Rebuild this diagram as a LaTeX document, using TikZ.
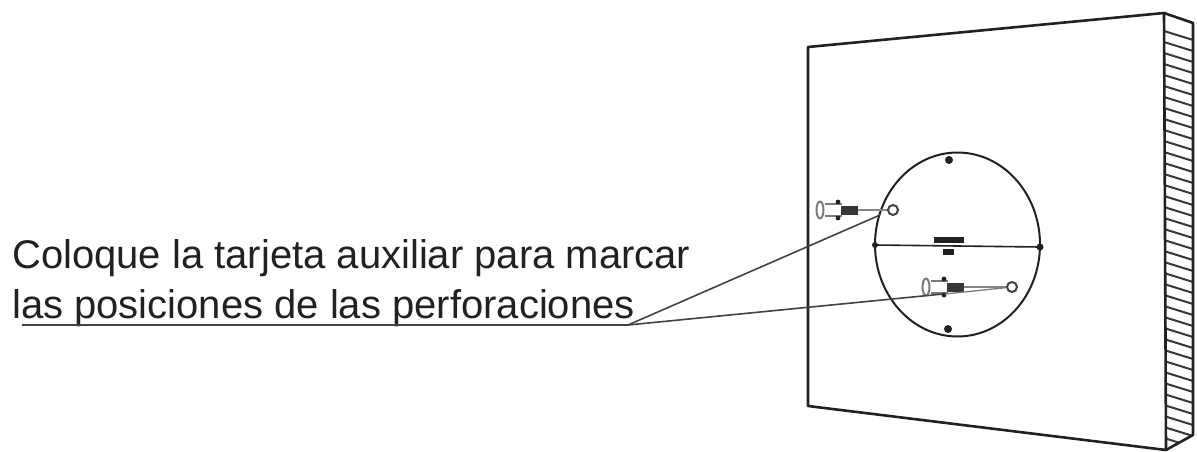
\documentclass[tikz,border=0pt]{standalone}
\usepackage{fontspec}
\setmainfont{Liberation Sans}
\definecolor{ink}{gray}{0.13}
\tikzset{
  wall/.style={draw=ink,line width=2.6pt,line join=round},
  hatchline/.style={draw=ink!90,line width=2pt},
  thinline/.style={draw=ink,line width=1.6pt},
  leader/.style={draw=ink!85,line width=1.6pt},
  textlabel/.style={anchor=base west,inner sep=0pt,text=ink,font=\fontsize{40}{44}\selectfont},
  blob/.style={fill=ink,draw=none},
  plughead/.style={draw=ink!60,line width=2pt,fill=white},
  ring/.style={draw=ink!85,line width=2pt,fill=white,circle,inner sep=0pt,minimum size=10pt}
}
\newcommand{\plug}[3]{% head x, y, ring x
  \draw[draw=ink!60,line width=1.5pt] (#1+5,#2-6) -- (#1+22,#2-6) (#1+5,#2+6) -- (#1+22,#2+6);
  \draw[plughead] (#1,#2) ellipse [x radius=3.5,y radius=8.5];
  \fill[ink] (#1+18,#2-8) circle (2.4);
  \fill[ink] (#1+18,#2+8) circle (2.4);
  \fill[ink!90] (#1+21,#2-4.5) rectangle (#1+38,#2+4.5);
  \draw[draw=ink!55,line width=1.6pt] (#1+38,#2) -- (#3,#2);
}
\begin{document}
\begin{tikzpicture}[x=1pt,y=-1pt]
\useasboundingbox (0,0) rectangle (1197,452);
% wall hatching, kept inside the side face
\begin{scope}
  \clip (1164,13) -- (1193,23) -- (1193,435) -- (1166,450) -- cycle;
  \foreach \y in {31,42,...,445}{
    \draw[hatchline] (1164,\y) -- (1193,\y+9);
  }
\end{scope}
% wall outline
\draw[wall] (1164,13) -- (808,47) -- (808,406) -- (1166,450) -- cycle;
\draw[wall] (1164,13) -- (1193,23) -- (1193,435) -- (1166,450);
% template
\draw[draw=ink,line width=2pt] (957.5,244.5) ellipse [x radius=82.5,y radius=92];
\draw[thinline] (875,245) -- (1040,247);
\fill[ink] (875,245) circle (3);
\fill[ink] (1040,247) circle (3.5);
\fill[ink] (949,160) circle (4);
\fill[ink] (948,329) circle (4);
\fill[blob] (934,237) rectangle (964,243);
\fill[blob] (943,249) rectangle (954,255);
% plugs
\plug{820}{210}{890}
\plug{926}{287}{1008}
\node[ring] (ringA) at (893,210) {};
\node[ring] (ringB) at (1012,287) {};
\coordinate (tailB) at (945,294);
\draw[draw=ink!60,line width=1.3pt] (tailB) -- (ringB);
% label and leaders
\node[textlabel] (line1) at (12,268) {Coloque la tarjeta auxiliar para marcar};
\node[textlabel] (line2) at (12,318) {las posiciones de las perforaciones};
\coordinate (start) at (22,325);
\coordinate (fork) at (628,325);
\coordinate (endA) at (880,215);
\coordinate (endB) at (943,294);
\draw[leader] (start) -- (fork) -- (endA);
\draw[leader] (fork) -- (endB);
\end{tikzpicture}
\end{document}
